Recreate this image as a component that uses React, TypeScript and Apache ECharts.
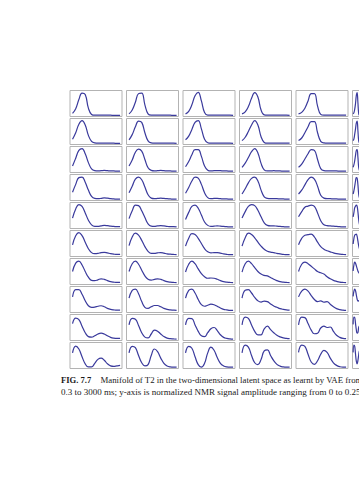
import React, { useEffect, useRef } from "react";
import * as echarts from "echarts";

// Each row: 6 curves (columns), 16 samples each, normalized amplitude 0..1
const row1: number[][] = [
  [0.12, 0.3, 0.65, 0.9, 0.85, 0.32, 0.08, 0.05, 0.05, 0.05, 0.05, 0.05, 0.05, 0.04, 0.04, 0.04],
  [0.1, 0.25, 0.55, 0.88, 0.9, 0.45, 0.1, 0.05, 0.05, 0.05, 0.05, 0.05, 0.05, 0.05, 0.04, 0.04],
  [0.1, 0.2, 0.45, 0.8, 0.93, 0.6, 0.15, 0.05, 0.05, 0.05, 0.05, 0.05, 0.05, 0.05, 0.05, 0.04],
  [0.1, 0.18, 0.38, 0.7, 0.92, 0.75, 0.25, 0.06, 0.05, 0.05, 0.05, 0.05, 0.05, 0.05, 0.05, 0.04],
  [0.1, 0.16, 0.32, 0.6, 0.88, 0.88, 0.4, 0.08, 0.05, 0.05, 0.05, 0.05, 0.05, 0.05, 0.05, 0.05],
  [0.1, 0.15, 0.28, 0.5, 0.8, 0.92, 0.55, 0.12, 0.05, 0.05, 0.05, 0.05, 0.05, 0.05, 0.05, 0.05],
];
const row2: number[][] = [
  [0.2, 0.45, 0.78, 0.92, 0.75, 0.35, 0.12, 0.06, 0.05, 0.05, 0.05, 0.05, 0.05, 0.05, 0.04, 0.04],
  [0.18, 0.38, 0.68, 0.9, 0.85, 0.45, 0.14, 0.06, 0.05, 0.05, 0.05, 0.05, 0.05, 0.05, 0.05, 0.04],
  [0.18, 0.32, 0.58, 0.85, 0.92, 0.6, 0.2, 0.07, 0.05, 0.05, 0.05, 0.05, 0.05, 0.05, 0.05, 0.04],
  [0.15, 0.28, 0.5, 0.75, 0.92, 0.75, 0.3, 0.08, 0.05, 0.05, 0.05, 0.05, 0.05, 0.05, 0.05, 0.05],
  [0.15, 0.25, 0.45, 0.68, 0.88, 0.88, 0.45, 0.12, 0.06, 0.05, 0.05, 0.05, 0.05, 0.05, 0.05, 0.05],
  [0.15, 0.22, 0.4, 0.6, 0.82, 0.9, 0.55, 0.15, 0.06, 0.05, 0.05, 0.05, 0.05, 0.05, 0.05, 0.05],
];
const row3: number[][] = [
  [0.25, 0.55, 0.85, 0.92, 0.72, 0.38, 0.14, 0.07, 0.06, 0.07, 0.08, 0.07, 0.06, 0.06, 0.05, 0.05],
  [0.25, 0.48, 0.78, 0.9, 0.82, 0.5, 0.18, 0.08, 0.06, 0.07, 0.08, 0.07, 0.06, 0.06, 0.05, 0.05],
  [0.22, 0.42, 0.68, 0.88, 0.88, 0.62, 0.25, 0.09, 0.06, 0.07, 0.07, 0.07, 0.06, 0.06, 0.05, 0.05],
  [0.2, 0.36, 0.58, 0.8, 0.92, 0.75, 0.35, 0.1, 0.06, 0.06, 0.07, 0.06, 0.06, 0.05, 0.05, 0.05],
  [0.2, 0.32, 0.52, 0.72, 0.88, 0.85, 0.5, 0.15, 0.07, 0.06, 0.06, 0.06, 0.06, 0.05, 0.05, 0.05],
  [0.2, 0.3, 0.46, 0.66, 0.84, 0.88, 0.6, 0.2, 0.08, 0.06, 0.06, 0.06, 0.05, 0.05, 0.05, 0.05],
];
const row4: number[][] = [
  [0.32, 0.62, 0.88, 0.9, 0.7, 0.4, 0.16, 0.08, 0.07, 0.08, 0.1, 0.09, 0.07, 0.06, 0.05, 0.05],
  [0.3, 0.55, 0.82, 0.9, 0.8, 0.52, 0.22, 0.09, 0.07, 0.08, 0.09, 0.08, 0.07, 0.06, 0.05, 0.05],
  [0.28, 0.5, 0.75, 0.9, 0.86, 0.62, 0.3, 0.11, 0.07, 0.08, 0.08, 0.07, 0.06, 0.06, 0.05, 0.05],
  [0.25, 0.45, 0.68, 0.85, 0.9, 0.75, 0.4, 0.14, 0.08, 0.07, 0.07, 0.07, 0.06, 0.06, 0.05, 0.05],
  [0.25, 0.4, 0.6, 0.8, 0.9, 0.82, 0.55, 0.2, 0.09, 0.07, 0.07, 0.06, 0.06, 0.05, 0.05, 0.05],
  [0.25, 0.38, 0.55, 0.75, 0.88, 0.86, 0.62, 0.25, 0.1, 0.07, 0.07, 0.06, 0.06, 0.05, 0.05, 0.05],
];
const row5: number[][] = [
  [0.4, 0.75, 0.92, 0.85, 0.6, 0.32, 0.14, 0.08, 0.08, 0.1, 0.12, 0.11, 0.09, 0.08, 0.07, 0.07],
  [0.38, 0.68, 0.9, 0.88, 0.68, 0.42, 0.18, 0.09, 0.08, 0.1, 0.11, 0.1, 0.08, 0.07, 0.07, 0.06],
  [0.35, 0.62, 0.85, 0.9, 0.78, 0.52, 0.25, 0.12, 0.08, 0.09, 0.1, 0.09, 0.08, 0.07, 0.06, 0.06],
  [0.4, 0.65, 0.85, 0.92, 0.88, 0.7, 0.45, 0.22, 0.12, 0.1, 0.1, 0.09, 0.08, 0.07, 0.06, 0.06],
  [0.45, 0.65, 0.82, 0.86, 0.9, 0.85, 0.6, 0.3, 0.14, 0.11, 0.1, 0.09, 0.08, 0.07, 0.06, 0.06],
  [0.45, 0.62, 0.8, 0.86, 0.9, 0.86, 0.65, 0.35, 0.16, 0.11, 0.1, 0.09, 0.08, 0.07, 0.06, 0.06],
];
const row6: number[][] = [
  [0.45, 0.8, 0.92, 0.8, 0.55, 0.3, 0.15, 0.11, 0.12, 0.15, 0.16, 0.14, 0.11, 0.09, 0.08, 0.08],
  [0.42, 0.75, 0.9, 0.82, 0.62, 0.38, 0.2, 0.12, 0.12, 0.14, 0.15, 0.13, 0.1, 0.09, 0.08, 0.07],
  [0.4, 0.7, 0.88, 0.85, 0.7, 0.5, 0.3, 0.18, 0.14, 0.15, 0.15, 0.13, 0.1, 0.08, 0.07, 0.07],
  [0.4, 0.72, 0.9, 0.85, 0.72, 0.55, 0.4, 0.28, 0.2, 0.17, 0.15, 0.12, 0.1, 0.08, 0.07, 0.07],
  [0.45, 0.7, 0.82, 0.84, 0.86, 0.75, 0.55, 0.38, 0.28, 0.22, 0.18, 0.14, 0.11, 0.09, 0.08, 0.07],
  [0.48, 0.7, 0.82, 0.85, 0.86, 0.78, 0.6, 0.42, 0.3, 0.24, 0.19, 0.14, 0.11, 0.09, 0.08, 0.07],
];
const row7: number[][] = [
  [0.5, 0.82, 0.9, 0.75, 0.5, 0.28, 0.16, 0.15, 0.18, 0.22, 0.2, 0.15, 0.11, 0.09, 0.08, 0.08],
  [0.5, 0.8, 0.9, 0.78, 0.55, 0.33, 0.2, 0.17, 0.2, 0.22, 0.2, 0.15, 0.11, 0.09, 0.08, 0.07],
  [0.48, 0.78, 0.9, 0.8, 0.6, 0.42, 0.3, 0.24, 0.25, 0.24, 0.2, 0.15, 0.11, 0.09, 0.08, 0.07],
  [0.48, 0.8, 0.9, 0.8, 0.65, 0.5, 0.4, 0.35, 0.33, 0.27, 0.2, 0.15, 0.11, 0.09, 0.08, 0.07],
  [0.5, 0.78, 0.86, 0.8, 0.7, 0.6, 0.5, 0.45, 0.4, 0.3, 0.22, 0.16, 0.12, 0.09, 0.08, 0.07],
  [0.52, 0.76, 0.86, 0.82, 0.72, 0.62, 0.52, 0.46, 0.42, 0.32, 0.24, 0.17, 0.12, 0.09, 0.08, 0.07],
];
const row8: number[][] = [
  [0.6, 0.88, 0.88, 0.7, 0.45, 0.26, 0.2, 0.21, 0.24, 0.26, 0.22, 0.16, 0.12, 0.1, 0.09, 0.09],
  [0.55, 0.85, 0.9, 0.72, 0.42, 0.2, 0.16, 0.22, 0.27, 0.27, 0.22, 0.16, 0.12, 0.1, 0.09, 0.08],
  [0.55, 0.85, 0.9, 0.75, 0.5, 0.3, 0.24, 0.28, 0.32, 0.3, 0.24, 0.17, 0.12, 0.1, 0.08, 0.08],
  [0.55, 0.86, 0.88, 0.75, 0.58, 0.45, 0.4, 0.44, 0.42, 0.33, 0.25, 0.2, 0.15, 0.12, 0.1, 0.09],
  [0.6, 0.82, 0.9, 0.82, 0.65, 0.5, 0.42, 0.45, 0.4, 0.42, 0.32, 0.22, 0.15, 0.11, 0.09, 0.08],
  [0.62, 0.82, 0.9, 0.84, 0.68, 0.52, 0.44, 0.46, 0.42, 0.42, 0.34, 0.24, 0.16, 0.11, 0.09, 0.08],
];
const row9: number[][] = [
  [0.65, 0.86, 0.8, 0.55, 0.3, 0.15, 0.13, 0.18, 0.25, 0.28, 0.25, 0.18, 0.12, 0.09, 0.08, 0.08],
  [0.6, 0.85, 0.82, 0.58, 0.3, 0.13, 0.1, 0.25, 0.4, 0.36, 0.25, 0.15, 0.09, 0.07, 0.06, 0.05],
  [0.6, 0.85, 0.84, 0.6, 0.35, 0.18, 0.15, 0.3, 0.45, 0.5, 0.38, 0.22, 0.12, 0.08, 0.06, 0.05],
  [0.6, 0.9, 0.85, 0.6, 0.35, 0.22, 0.22, 0.45, 0.55, 0.42, 0.3, 0.2, 0.14, 0.1, 0.08, 0.07],
  [0.6, 0.9, 0.88, 0.65, 0.4, 0.26, 0.28, 0.48, 0.55, 0.5, 0.52, 0.35, 0.2, 0.12, 0.08, 0.07],
  [0.62, 0.9, 0.88, 0.66, 0.42, 0.28, 0.3, 0.5, 0.56, 0.52, 0.5, 0.35, 0.2, 0.12, 0.08, 0.07],
];
const row10: number[][] = [
  [0.6, 0.86, 0.75, 0.45, 0.18, 0.06, 0.06, 0.2, 0.35, 0.4, 0.32, 0.18, 0.1, 0.08, 0.1, 0.12],
  [0.6, 0.85, 0.8, 0.5, 0.22, 0.1, 0.15, 0.5, 0.75, 0.65, 0.4, 0.2, 0.1, 0.06, 0.05, 0.05],
  [0.6, 0.85, 0.78, 0.45, 0.15, 0.05, 0.2, 0.6, 0.82, 0.7, 0.42, 0.2, 0.1, 0.06, 0.05, 0.05],
  [0.6, 0.9, 0.82, 0.5, 0.22, 0.15, 0.35, 0.68, 0.72, 0.5, 0.3, 0.16, 0.09, 0.06, 0.05, 0.05],
  [0.62, 0.9, 0.85, 0.55, 0.25, 0.16, 0.3, 0.55, 0.7, 0.62, 0.4, 0.22, 0.12, 0.07, 0.05, 0.05],
  [0.62, 0.9, 0.85, 0.56, 0.28, 0.18, 0.3, 0.52, 0.68, 0.62, 0.42, 0.24, 0.12, 0.07, 0.05, 0.05],
];
const rows: number[][][] = [row1, row2, row3, row4, row5, row6, row7, row8, row9, row10];

const captionLine1Bold = "FIG. 7.7";
const captionLine1 = "Manifold of T2 in the two-dimensional latent space as learnt by VAE from";
const captionLine2 = "0.3 to 3000 ms; y-axis is normalized NMR signal amplitude ranging from 0 to 0.25";

export default function App() {
  const ref = useRef<HTMLDivElement>(null);
  useEffect(() => {
    if (!ref.current) return;
    const chart = echarts.init(ref.current, null, { renderer: "svg" });
    const grids: any[] = [];
    const xAxes: any[] = [];
    const yAxes: any[] = [];
    const series: any[] = [];
    const left0 = 70, pitchX = 56.5, w = 52;
    const top0 = 90.5, pitchY = 28, h = 26;
    rows.forEach((row, r) => {
      row.forEach((vals, c) => {
        const idx = grids.length;
        grids.push({
          left: left0 + c * pitchX,
          top: top0 + r * pitchY,
          width: w,
          height: h,
          show: true,
          borderColor: "#b3b3b3",
          borderWidth: 1,
          backgroundColor: "#ffffff",
          containLabel: false,
        });
        xAxes.push({ type: "value", gridIndex: idx, min: -0.8, max: 15.6, show: false });
        yAxes.push({ type: "value", gridIndex: idx, min: 0, max: 1, show: false });
        series.push({
          type: "line",
          xAxisIndex: idx,
          yAxisIndex: idx,
          data: vals.map((v, i) => [i, v]),
          smooth: 0.45,
          showSymbol: false,
          symbol: "none",
          lineStyle: { color: "#3a3a9c", width: 1.2 },
          silent: true,
        });
      });
    });
    const font = "'Liberation Serif', 'Times New Roman', serif";
    chart.setOption({
      animation: false,
      backgroundColor: "#ffffff",
      grid: grids,
      xAxis: xAxes,
      yAxis: yAxes,
      series,
      graphic: [
        {
          type: "text",
          x: 61,
          y: 380,
          style: {
            text: captionLine1Bold,
            font: "bold 8.6px " + font,
            fill: "#1a1a1a",
            verticalAlign: "middle",
          },
        },
        {
          type: "text",
          x: 100.5,
          y: 380,
          style: {
            text: captionLine1,
            font: "8.8px " + font,
            fill: "#1a1a1a",
            verticalAlign: "middle",
          },
        },
        {
          type: "text",
          x: 61,
          y: 392,
          style: {
            text: captionLine2,
            font: "9px " + font,
            fill: "#1a1a1a",
            verticalAlign: "middle",
          },
        },
      ],
    });
    return () => chart.dispose();
  }, []);
  return (
    <div
      ref={ref}
      style={{ position: "fixed", left: 0, top: 0, width: 359, height: 480, background: "#fff" }}
    />
  );
}
